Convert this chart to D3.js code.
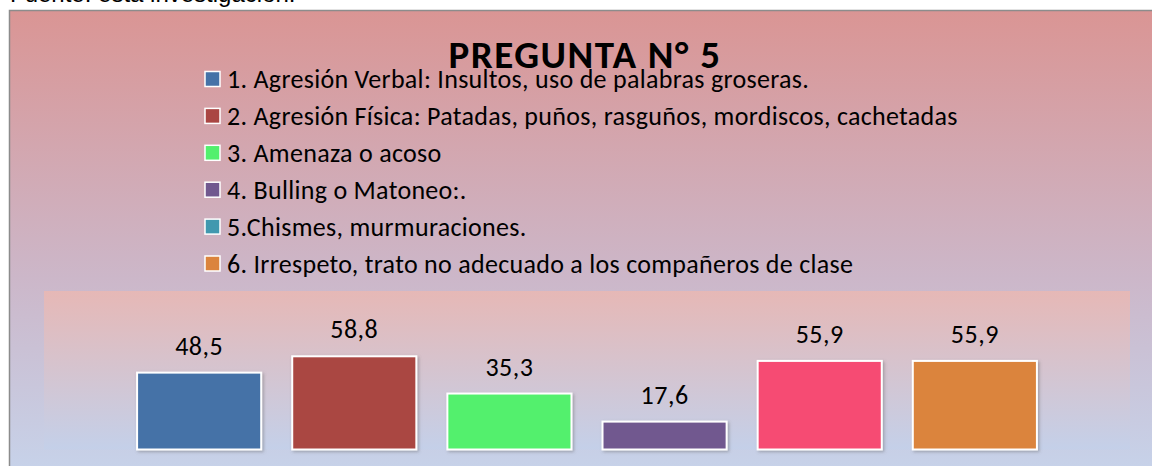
<!DOCTYPE html>
<html>
<head>
<meta charset="utf-8">
<script src="https://cdn.jsdelivr.net/npm/d3@7"></script>
<style>
  html, body { margin: 0; padding: 0; background: #fff; overflow: hidden; }
  svg { display: block; }
  .lbl { font-family: Carlito, Lato, "Open Sans", sans-serif; }
</style>
</head>
<body>
<div id="chart"></div>
<script>
// datos del gráfico
const categorias = [
  "1. Agresión Verbal: Insultos, uso de palabras groseras.",
  "2. Agresión Física: Patadas, puños, rasguños, mordiscos, cachetadas",
  "3. Amenaza o acoso",
  "4. Bulling o Matoneo:.",
  "5.Chismes, murmuraciones.",
  "6. Irrespeto, trato no adecuado a los compañeros de clase"
];
const valores = [48.5, 58.8, 35.3, 17.6, 55.9, 55.9];
const etiquetas = ["48,5", "58,8", "35,3", "17,6", "55,9", "55,9"];
const coloresBarra = ["#4572a7", "#aa4643", "#53f06d", "#71588f", "#f64c73", "#db843d"];
const coloresLeyenda = ["#4572a7", "#aa4643", "#53f06d", "#71588f", "#4198af", "#db843d"];
const titulo = "PREGUNTA N° 5";
const fuente = "Fuente: esta investigación.";

const W = 1152, H = 466;
const plot = { left: 44, right: 1130, top: 291, bottom: 449.5 };

const svg = d3.select("#chart").append("svg")
  .attr("width", W)
  .attr("height", H);

const defs = svg.append("defs");

// fondo del gráfico
const gFondo = defs.append("linearGradient")
  .attr("id", "fondo").attr("x1", 0).attr("y1", 0).attr("x2", 0).attr("y2", 1);
gFondo.append("stop").attr("offset", "0%").attr("stop-color", "#da9594");
gFondo.append("stop").attr("offset", "55%").attr("stop-color", "#ccb7c9");
gFondo.append("stop").attr("offset", "100%").attr("stop-color", "#c6d6ee");

// fondo del área de trazado
const gPlot = defs.append("linearGradient")
  .attr("id", "fondoPlot").attr("x1", 0).attr("y1", 0).attr("x2", 0).attr("y2", 1);
gPlot.append("stop").attr("offset", "0%").attr("stop-color", "#e6b8b6");
gPlot.append("stop").attr("offset", "100%").attr("stop-color", "#c4d0e9");

const sombra = defs.append("filter").attr("id", "sombra")
  .attr("x", "-10%").attr("y", "-10%").attr("width", "130%").attr("height", "130%");
sombra.append("feDropShadow")
  .attr("dx", 1.5).attr("dy", 1.5).attr("stdDeviation", 1.5)
  .attr("flood-color", "#666").attr("flood-opacity", 0.45);

// texto de la fuente (cortado arriba)
svg.append("text")
  .attr("x", 10).attr("y", 2)
  .style("font-family", "'Liberation Sans', Arial, sans-serif")
  .style("font-size", "24px")
  .style("fill", "#000")
  .text(fuente);

// marco del gráfico
svg.append("rect")
  .attr("x", 9.5).attr("y", 10.5)
  .attr("width", W + 20).attr("height", H + 20)
  .attr("fill", "url(#fondo)")
  .attr("stroke", "#8c8c8c")
  .attr("stroke-width", 1.5);

// área de trazado
svg.append("rect")
  .attr("x", plot.left).attr("y", plot.top)
  .attr("width", plot.right - plot.left)
  .attr("height", plot.bottom - plot.top)
  .attr("fill", "url(#fondoPlot)");

// escalas
const x = d3.scaleBand()
  .domain(categorias)
  .range([plot.left, plot.right])
  .paddingInner(0.2)
  .paddingOuter(0.6);

const y = d3.scaleLinear()
  .domain([0, 100])
  .range([plot.bottom, plot.top]);

// barras
svg.append("g").selectAll("rect")
  .data(valores)
  .join("rect")
  .attr("x", (d, i) => x(categorias[i]))
  .attr("y", d => y(d))
  .attr("width", x.bandwidth())
  .attr("height", d => y(0) - y(d))
  .attr("fill", (d, i) => coloresBarra[i])
  .attr("stroke", "#fff")
  .attr("stroke-width", 2)
  .attr("filter", "url(#sombra)");

// etiquetas de datos
svg.append("g").selectAll("text")
  .data(valores)
  .join("text")
  .attr("class", "lbl")
  .attr("x", (d, i) => x(categorias[i]) + x.bandwidth() / 2)
  .attr("y", d => y(d) - 18)
  .attr("text-anchor", "middle")
  .style("font-size", "26px")
  .style("letter-spacing", "0.5px")
  .style("fill", "#000")
  .text((d, i) => etiquetas[i]);

// leyenda
const leyenda = svg.append("g").attr("transform", "translate(205,79)");
const item = leyenda.selectAll("g")
  .data(categorias)
  .join("g")
  .attr("transform", (d, i) => `translate(0,${i * 36.9})`);

item.append("rect")
  .attr("x", 0).attr("y", -7.5)
  .attr("width", 15).attr("height", 15)
  .attr("fill", (d, i) => coloresLeyenda[i])
  .attr("stroke", "#fff")
  .attr("stroke-width", 1.5);

item.append("text")
  .attr("class", "lbl")
  .attr("x", 22).attr("y", 0)
  .attr("dy", "0.35em")
  .style("font-size", "26px")
  .style("letter-spacing", "0.3px")
  .style("fill", "#000")
  .text(d => d);

// título
svg.append("text")
  .attr("class", "lbl")
  .attr("x", 585).attr("y", 68)
  .attr("text-anchor", "middle")
  .style("font-size", "39px")
  .style("letter-spacing", "1.5px")
  .style("font-weight", "bold")
  .style("fill", "#000")
  .text(titulo);
</script>
</body>
</html>
